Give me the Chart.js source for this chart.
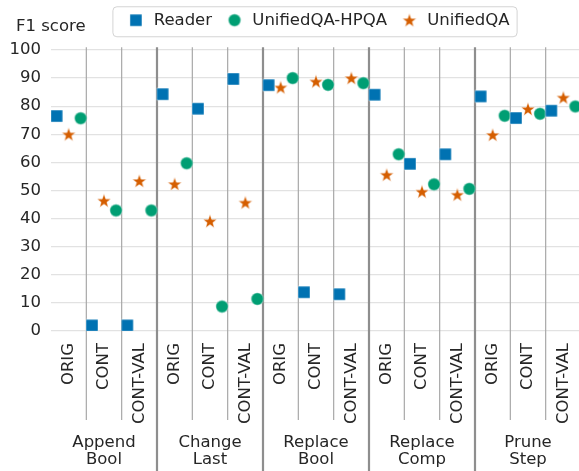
<!DOCTYPE html>
<html><head><meta charset="utf-8">
<script src="https://cdn.jsdelivr.net/npm/chart.js@4/dist/chart.umd.min.js"></script>
<style>html,body{margin:0;padding:0;overflow:hidden;background:#fff}canvas{display:block}</style>
</head><body>
<canvas id="c" width="581" height="471" style="width:581px;height:471px"></canvas>
<script>
// ---- data ----
const groups = [['Append','Bool'],['Change','Last'],['Replace','Bool'],['Replace','Comp'],['Prune','Step']];
const conditions = ['ORIG','CONT','CONT-VAL'];
const yTicks = [0,10,20,30,40,50,60,70,80,90,100];
const seriesNames = ['Reader','UnifiedQA-HPQA','UnifiedQA'];
const readerF1  = [76.5, 2.0, 2.0, 84.3, 79.1, 89.7, 87.5, 13.8, 13.1, 84.1, 59.5, 62.9, 83.5, 75.8, 78.4];
const hpqaF1    = [75.7, 42.9, 42.9, 59.7, 8.7, 11.4, 90.0, 87.6, 88.2, 62.9, 52.2, 50.6, 76.6, 77.3, 79.9];
const unifiedF1 = [70.0, 46.4, 53.4, 52.3, 39.1, 45.7, 86.7, 88.8, 90.0, 55.6, 49.6, 48.5, 69.8, 79.0, 83.1];

// ---- styling ----
const FONT = 'DejaVu Sans';
const FS = 16.5;
const TXT = '#262626';
const C_READER = '#0072B2', C_HPQA = '#009E73', C_UQA = '#D55E00';

function markerCanvas(kind, color){
  const cv = document.createElement('canvas');
  cv.width = 16; cv.height = 16;
  const g = cv.getContext('2d');
  g.fillStyle = color;
  g.strokeStyle = 'rgba(255,255,255,0.45)';
  g.lineWidth = 1;
  g.beginPath();
  if (kind === 'square') {
    g.rect(2, 2, 12, 12);
  } else if (kind === 'circle') {
    g.arc(8, 8, 6.2, 0, Math.PI*2);
  } else {
    const R = 7.3, r = 3.0;
    for (let i = 0; i < 10; i++) {
      const rad = (i % 2 === 0) ? R : r;
      const a = -Math.PI/2 + i*Math.PI/5;
      const px = 8 + rad*Math.cos(a), py = 8.6 + rad*Math.sin(a);
      if (i === 0) g.moveTo(px, py); else g.lineTo(px, py);
    }
    g.closePath();
  }
  g.fill();
  g.stroke();
  return cv;
}
const mkReader = markerCanvas('square', C_READER);
const mkHpqa = markerCanvas('circle', C_HPQA);
const mkUqa = markerCanvas('star', C_UQA);

const OFF = 0.34;
function pts(vals, dx){ return vals.map((v,i)=>({x: i + dx, y: v})); }
function noSidePad(s){ s.paddingLeft = 0; s.paddingRight = 0; }

const decor = {
  id: 'decor',
  afterLayout(chart){
    const lg = chart.legend, ca = chart.chartArea;
    lg.left = ca.left + 4;
    lg.right = ca.right;
  },
  beforeDraw(chart){
    const ctx = chart.ctx;
    ctx.save();
    ctx.fillStyle = '#fff';
    ctx.fillRect(0,0,chart.width,chart.height);
    const lg = chart.legend, hb = lg.legendHitBoxes;
    if (hb && hb.length) {
      const last = hb[hb.length-1];
      const x0 = hb[0].left - 14, x1 = last.left + last.width + 7;
      const cy = hb[0].top + hb[0].height/2;
      const y0 = cy - 14, y1 = cy + 16;
      ctx.beginPath();
      ctx.roundRect(x0+0.5, y0+0.5, x1-x0, y1-y0, 4);
      ctx.strokeStyle = '#d4d4d4';
      ctx.lineWidth = 1;
      ctx.stroke();
    }
    ctx.fillStyle = TXT;
    ctx.font = FS + 'px "' + FONT + '"';
    ctx.textAlign = 'left';
    ctx.textBaseline = 'alphabetic';
    ctx.fillText('F1 score', 16, 30.5);
    ctx.restore();
  },
  beforeDatasetsDraw(chart){
    const ctx = chart.ctx, xs = chart.scales.x, ys = chart.scales.y, ca = chart.chartArea;
    const top = ys.getPixelForValue(101);
    ctx.save();
    for (let b = 0; b < readerF1.length - 1; b++) {
      const px = xs.getPixelForValue(b + 0.5);
      const major = (b + 1) % conditions.length === 0;
      ctx.beginPath();
      ctx.moveTo(px, top);
      ctx.lineTo(px, major ? chart.height : ca.bottom + 89);
      ctx.strokeStyle = major ? '#8e8e8e' : '#a8a8a8';
      ctx.lineWidth = major ? 2.2 : 1.2;
      ctx.stroke();
    }
    ctx.restore();
  }
};

new Chart(document.getElementById('c'), {
  type: 'scatter',
  data: {
    datasets: [
      { label: seriesNames[0], data: pts(readerF1, -OFF), pointStyle: mkReader, backgroundColor: C_READER, borderColor: C_READER },
      { label: seriesNames[1], data: pts(hpqaF1, OFF), pointStyle: mkHpqa, backgroundColor: C_HPQA, borderColor: C_HPQA },
      { label: seriesNames[2], data: pts(unifiedF1, 0), pointStyle: mkUqa, backgroundColor: C_UQA, borderColor: C_UQA }
    ]
  },
  options: {
    responsive: false,
    animation: false,
    devicePixelRatio: 1,
    layout: { padding: { top: -1, left: 0, right: 0, bottom: 0 }, autoPadding: false },
    scales: {
      x: {
        type: 'linear', axis: 'x', position: 'bottom', weight: 0,
        min: -0.5, max: readerF1.length - 0.5,
        afterBuildTicks: s => { s.ticks = readerF1.map((_, i) => ({ value: i })); },
        afterFit: s => { s.height = 97; noSidePad(s); },
        grid: { display: false, drawTicks: false },
        border: { display: false },
        ticks: {
          autoSkip: false, minRotation: 90, maxRotation: 90, padding: 12,
          color: TXT, font: { family: FONT, size: FS },
          callback: v => conditions[Math.round(v) % conditions.length]
        }
      },
      xg: {
        type: 'linear', axis: 'x', position: 'bottom', weight: 1,
        min: -0.5, max: readerF1.length - 0.5,
        afterBuildTicks: s => { s.ticks = groups.map((_, g) => ({ value: g * 3 + 1 })); },
        afterFit: s => { s.height = 43; noSidePad(s); },
        grid: { display: false, drawTicks: false },
        border: { display: false },
        ticks: {
          autoSkip: false, minRotation: 0, maxRotation: 0, padding: 6,
          color: TXT, font: { family: FONT, size: FS, lineHeight: 1.05 },
          callback: v => groups[Math.round((v - 1) / 3)]
        }
      },
      y: {
        min: 0, max: 104.1,
        afterBuildTicks: s => { s.ticks = yTicks.map(v => ({ value: v })); },
        afterFit: s => { s.width = 51; s.paddingTop = 0; s.paddingBottom = 0; },
        grid: { color: '#e2e2e2', lineWidth: 1.3, drawTicks: false },
        border: { display: false },
        ticks: { padding: 10, color: TXT, font: { family: FONT, size: FS } }
      }
    },
    plugins: {
      tooltip: { enabled: false },
      legend: {
        position: 'top',
        labels: {
          usePointStyle: true, pointStyleWidth: 19, padding: 13,
          color: TXT, font: { family: FONT, size: FS },
          generateLabels: chart => chart.data.datasets.map((ds, i) => ({
            text: ds.label, pointStyle: ds.pointStyle, fillStyle: ds.backgroundColor,
            strokeStyle: ds.borderColor, lineWidth: 0, hidden: false, datasetIndex: i, fontColor: TXT
          }))
        }
      }
    }
  },
  plugins: [decor]
});
</script>
</body></html>
